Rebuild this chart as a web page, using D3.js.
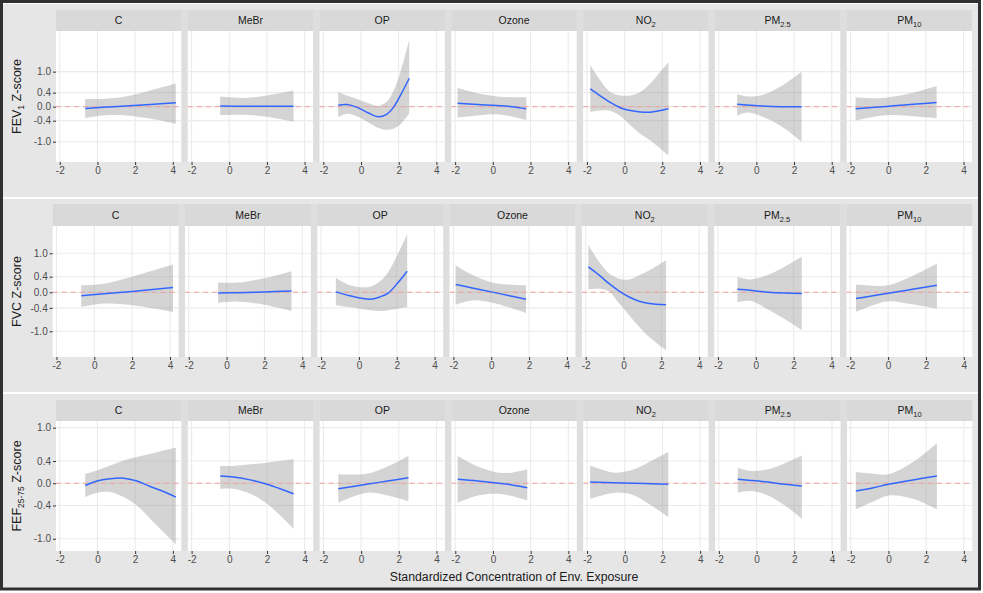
<!DOCTYPE html>
<html>
<head>
<meta charset="utf-8">
<script src="https://cdn.jsdelivr.net/npm/d3@7"></script>
<style>
  body { margin: 0; background: #fff; }
  text { font-family: "Liberation Sans", Arial, sans-serif; }
</style>
</head>
<body>
<svg id="chart" width="983" height="593"></svg>
<script>
// facet labels: [main, subscript]
const exposures = [["C", ""], ["MeBr", ""], ["OP", ""], ["Ozone", ""], ["NO", "2"], ["PM", "2.5"], ["PM", "10"]];
const xTicks = [-2, 0, 2, 4];
const yTicks = [-1.0, -0.4, 0.0, 0.4, 1.0];
const xTitle = "Standardized Concentration of Env. Exposure";

// each curve point: [exposure, fit, lower, upper]
const fev1Curves = [
    [[-0.65, -0.05, -0.32, 0.22], [0.3, -0.02, -0.25, 0.22], [1.5, 0.02, -0.25, 0.29], [2.8, 0.06, -0.34, 0.46], [4.16, 0.11, -0.49, 0.66]],
    [[-0.48, 0.02, -0.24, 0.29], [0.8, 0.01, -0.23, 0.25], [2.0, 0.01, -0.29, 0.32], [3.41, 0.01, -0.43, 0.46]],
    [[-1.21, 0.04, -0.30, 0.42], [-0.76, 0.06, -0.20, 0.32], [-0.2, -0.02, -0.28, 0.22], [0.4, -0.18, -0.45, 0.10], [0.9, -0.29, -0.60, 0.02], [1.36, -0.22, -0.66, 0.14], [1.72, -0.02, -0.63, 0.45], [2.07, 0.30, -0.52, 0.95], [2.56, 0.81, -0.19, 1.91]],
    [[-1.87, 0.10, -0.31, 0.53], [-0.8, 0.06, -0.25, 0.38], [0.2, 0.03, -0.22, 0.29], [1.0, 0.0, -0.28, 0.27], [1.78, -0.06, -0.38, 0.27]],
    [[-1.82, 0.51, -0.15, 1.18], [-1.29, 0.31, -0.11, 0.75], [-0.76, 0.12, -0.12, 0.42], [-0.23, -0.03, -0.27, 0.32], [0.30, -0.11, -0.53, 0.32], [0.83, -0.15, -0.77, 0.42], [1.36, -0.16, -0.96, 0.66], [1.90, -0.11, -1.20, 1.0], [2.33, -0.06, -1.39, 1.27]],
    [[-1.02, 0.07, -0.26, 0.36], [-0.5, 0.05, -0.17, 0.29], [0.3, 0.02, -0.28, 0.33], [1.3, 0.0, -0.55, 0.58], [2.40, 0.0, -1.0, 1.0]],
    [[-1.73, -0.06, -0.40, 0.27], [-0.5, -0.01, -0.27, 0.24], [0.3, 0.025, -0.24, 0.29], [1.5, 0.075, -0.28, 0.42], [2.57, 0.12, -0.33, 0.59]]
];
const fvcCurves = [
    [[-0.69, -0.09, -0.38, 0.18], [0.5, -0.04, -0.29, 0.22], [2.0, 0.02, -0.33, 0.40], [4.16, 0.12, -0.50, 0.71]],
    [[-0.45, -0.02, -0.27, 0.25], [0.6, -0.01, -0.24, 0.25], [2.0, 0.01, -0.32, 0.36], [3.43, 0.03, -0.48, 0.54]],
    [[-1.22, 0.01, -0.33, 0.37], [-0.48, -0.09, -0.38, 0.18], [0.58, -0.18, -0.46, 0.14], [1.11, -0.12, -0.48, 0.28], [1.55, -0.02, -0.46, 0.52], [2.07, 0.25, -0.42, 0.99], [2.55, 0.54, -0.38, 1.48]],
    [[-1.88, 0.20, -0.32, 0.69], [-1.0, 0.11, -0.21, 0.45], [0.0, 0.01, -0.26, 0.26], [0.9, -0.08, -0.38, 0.20], [1.84, -0.18, -0.53, 0.18]],
    [[-1.86, 0.65, 0.08, 1.22], [-1.29, 0.44, 0.09, 0.78], [-0.76, 0.22, 0.02, 0.48], [-0.23, 0.03, -0.29, 0.35], [0.30, -0.12, -0.59, 0.33], [0.83, -0.23, -0.89, 0.44], [1.36, -0.29, -1.15, 0.56], [2.25, -0.32, -1.49, 0.82]],
    [[-0.97, 0.08, -0.25, 0.39], [-0.3, 0.05, -0.22, 0.33], [0.5, 0.01, -0.40, 0.42], [1.5, -0.02, -0.68, 0.65], [2.43, -0.03, -0.97, 0.91]],
    [[-1.70, -0.16, -0.50, 0.20], [-0.8, -0.09, -0.33, 0.17], [0.0, -0.025, -0.23, 0.18], [1.2, 0.07, -0.30, 0.40], [2.58, 0.18, -0.42, 0.74]]
];
const fefCurves = [
    [[-0.65, -0.04, -0.25, 0.17], [-0.03, 0.04, -0.17, 0.23], [0.67, 0.08, -0.16, 0.32], [1.38, 0.09, -0.25, 0.41], [2.09, 0.04, -0.40, 0.47], [2.80, -0.06, -0.64, 0.53], [3.5, -0.15, -0.88, 0.59], [4.16, -0.25, -1.10, 0.64]],
    [[-0.48, 0.13, -0.10, 0.31], [0.22, 0.11, -0.10, 0.31], [1.11, 0.06, -0.19, 0.34], [2.0, -0.02, -0.37, 0.37], [2.70, -0.10, -0.58, 0.40], [3.41, -0.19, -0.82, 0.43]],
    [[-1.21, -0.10, -0.35, 0.16], [0.3, -0.02, -0.17, 0.17], [1.4, 0.04, -0.22, 0.30], [2.51, 0.10, -0.32, 0.49]],
    [[-1.87, 0.07, -0.35, 0.49], [-0.8, 0.04, -0.22, 0.30], [0.3, 0.0, -0.19, 0.19], [1.0, -0.03, -0.23, 0.19], [1.82, -0.08, -0.31, 0.25]],
    [[-1.84, 0.02, -0.28, 0.32], [-0.5, 0.01, -0.17, 0.19], [0.5, 0.0, -0.22, 0.25], [1.4, -0.01, -0.40, 0.40], [2.31, -0.02, -0.61, 0.56]],
    [[-1.0, 0.07, -0.17, 0.28], [-0.3, 0.05, -0.14, 0.22], [0.6, 0.02, -0.22, 0.25], [1.5, -0.02, -0.40, 0.36], [2.40, -0.05, -0.64, 0.50]],
    [[-1.73, -0.14, -0.47, 0.20], [-0.8, -0.08, -0.33, 0.17], [0.0, -0.02, -0.22, 0.16], [1.3, 0.06, -0.28, 0.38], [2.57, 0.13, -0.47, 0.72]]
];

const svg = d3.select("#chart");
const width = 983, height = 593;

// row layout
const rows = [
    { curves: fev1Curves, title: ["FEV", "1", " Z-score"], top: 4, bottom: 197, stripTop: 10, panelTop: 31, panelBottom: 162, left: 56, right: 972, yDomain: [-1.58, 2.16] },
    { curves: fvcCurves, title: ["FVC Z-score", "", ""], top: 199, bottom: 392, stripTop: 204, panelTop: 226, panelBottom: 357, left: 52.7, right: 972.3, yDomain: [-1.66, 1.70] },
    { curves: fefCurves, title: ["FEF", "25-75", " Z-score"], top: 394, bottom: 588, stripTop: 400, panelTop: 421, panelBottom: 551, left: 56, right: 972.3, yDomain: [-1.22, 1.12] }
];
const spacing = 6.5;

svg.append("rect").attr("width", width).attr("height", height).attr("fill", "#fff");

rows.forEach((row) => {
    svg.append("rect")
        .attr("x", 3).attr("y", row.top)
        .attr("width", 975).attr("height", row.bottom - row.top)
        .attr("fill", "#e6e6e6");

    let panelW = (row.right - row.left - spacing * 6) / 7;
    let x = d3.scaleLinear().domain([-2.2, 4.45]).range([0, panelW]);
    let y = d3.scaleLinear().domain(row.yDomain).range([row.panelBottom, row.panelTop]);

    // gaps between panels
    for (let i = 0; i < 6; i++) {
        svg.append("rect")
            .attr("x", row.left + (i + 1) * panelW + i * spacing)
            .attr("y", row.stripTop)
            .attr("width", spacing)
            .attr("height", row.panelBottom - row.stripTop)
            .attr("fill", "#dedede");
    }

    let area = d3.area()
        .x(d => x(d[0]))
        .y0(d => y(d[2]))
        .y1(d => y(d[3]))
        .curve(d3.curveCatmullRom.alpha(0.5));
    let line = d3.line()
        .x(d => x(d[0]))
        .y(d => y(d[1]))
        .curve(d3.curveCatmullRom.alpha(0.5));

    exposures.forEach((lab, i) => {
        let px = row.left + i * (panelW + spacing);
        let g = svg.append("g").attr("transform", "translate(" + px + ",0)");

        // strip
        g.append("rect")
            .attr("x", 0).attr("y", row.stripTop)
            .attr("width", panelW).attr("height", row.panelTop - row.stripTop)
            .attr("fill", "#d9d9d9");
        let st = g.append("text")
            .attr("x", panelW / 2)
            .attr("y", (row.stripTop + row.panelTop) / 2 + 3.6)
            .attr("text-anchor", "middle")
            .attr("font-size", 10.5)
            .attr("fill", "#1a1a1a");
        st.append("tspan").text(lab[0]);
        if (lab[1]) {
            st.append("tspan").attr("font-size", 7.5).attr("dy", 3).text(lab[1]);
        }

        // panel
        g.append("rect")
            .attr("x", 0).attr("y", row.panelTop)
            .attr("width", panelW).attr("height", row.panelBottom - row.panelTop)
            .attr("fill", "#fff");

        g.selectAll(".vgrid").data(xTicks).enter()
            .append("line")
            .attr("x1", d => x(d)).attr("x2", d => x(d))
            .attr("y1", row.panelTop).attr("y2", row.panelBottom)
            .attr("stroke", "#ebebeb").attr("stroke-width", 1.1);
        g.selectAll(".hgrid").data(yTicks).enter()
            .append("line")
            .attr("x1", 0).attr("x2", panelW)
            .attr("y1", d => y(d)).attr("y2", d => y(d))
            .attr("stroke", "#ebebeb").attr("stroke-width", 1.1);

        let data = row.curves[i];
        g.append("path")
            .datum(data)
            .attr("d", area)
            .attr("fill", "#999999")
            .attr("fill-opacity", 0.42);

        g.append("line")
            .attr("x1", 0).attr("x2", panelW)
            .attr("y1", y(0)).attr("y2", y(0))
            .attr("stroke", "#f2a0a0")
            .attr("stroke-width", 1)
            .attr("stroke-dasharray", "5,4");

        g.append("path")
            .datum(data)
            .attr("d", line)
            .attr("fill", "none")
            .attr("stroke", "#3366ff")
            .attr("stroke-width", 1.5);

        // x axis
        let xAxis = d3.axisBottom(x).tickValues(xTicks).tickSize(3).tickPadding(2).tickFormat(d3.format("d"));
        let ax = g.append("g")
            .attr("transform", "translate(0," + row.panelBottom + ")")
            .call(xAxis);
        ax.select(".domain").remove();
        ax.selectAll("line").attr("stroke", "#333");
        ax.selectAll("text")
            .attr("fill", "#4d4d4d")
            .attr("font-size", 10)
            .attr("font-family", "Liberation Sans, Arial, sans-serif")
            .text(d => d < 0 ? "-" + Math.abs(d) : d);
    });

    // y axis
    let yAxis = d3.axisLeft(y).tickValues(yTicks).tickSize(3).tickPadding(2).tickFormat(d3.format(".1f"));
    let ay = svg.append("g")
        .attr("transform", "translate(" + row.left + ",0)")
        .call(yAxis);
    ay.select(".domain").remove();
    ay.selectAll("line").attr("stroke", "#333");
    ay.selectAll("text")
        .attr("fill", "#4d4d4d")
        .attr("font-size", 10)
        .attr("font-family", "Liberation Sans, Arial, sans-serif")
        .text(d => d3.format(".1f")(d).replace("\u2212", "-"));

    // y title
    let cy = (row.panelTop + row.panelBottom) / 2;
    let yt = svg.append("text")
        .attr("transform", "translate(21," + cy + ") rotate(-90)")
        .attr("text-anchor", "middle")
        .attr("font-size", 12.5)
        .attr("fill", "#1a1a1a");
    yt.append("tspan").text(row.title[0]);
    if (row.title[1]) {
        yt.append("tspan").attr("font-size", 8.5).attr("dy", 3).text(row.title[1]);
        yt.append("tspan").attr("dy", -3).text(row.title[2]);
    }
});

// x title
svg.append("text")
    .attr("x", 514)
    .attr("y", 581)
    .attr("text-anchor", "middle")
    .attr("font-size", 12.3)
    .attr("fill", "#1a1a1a")
    .text(xTitle);

// outer frame
svg.append("rect")
    .attr("x", 1.5).attr("y", 1.5)
    .attr("width", 978).attr("height", 587.5)
    .attr("fill", "none")
    .attr("stroke", "#303030")
    .attr("stroke-width", 3);
</script>
</body>
</html>
